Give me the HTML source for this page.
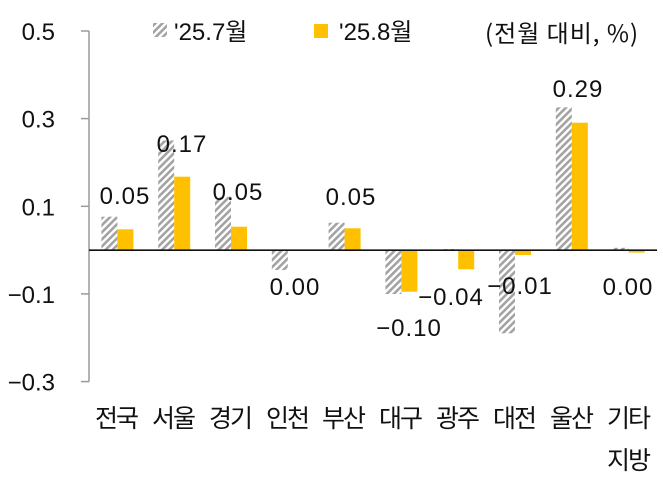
<!DOCTYPE html>
<html><head><meta charset="utf-8">
<style>
html,body{margin:0;padding:0;background:#fff;}
svg{display:block;}
text{font-family:"Liberation Sans","Noto Sans CJK KR",sans-serif;fill:#111;}
.k{font-family:"Noto Sans CJK KR","Liberation Sans",sans-serif;}
</style></head>
<body>
<svg width="663" height="488" viewBox="0 0 663 488" xmlns="http://www.w3.org/2000/svg">
<defs>
<pattern id="h" width="5" height="5" patternUnits="userSpaceOnUse" patternTransform="rotate(45)">
<rect x="0" y="0" width="5" height="5" fill="#fff"/>
<rect x="0" y="0" width="2.6" height="5" fill="#a3a3a3"/>
</pattern>
</defs>
<rect width="663" height="488" fill="#fff"/>
<!-- axis -->
<line x1="89" y1="31" x2="89" y2="381.7" stroke="#9a9a9a" stroke-width="1.5"/>
<g stroke="#9a9a9a" stroke-width="1.5">
<line x1="81" y1="31" x2="89" y2="31"/>
<line x1="81" y1="118.6" x2="89" y2="118.6"/>
<line x1="81" y1="206.3" x2="89" y2="206.3"/>
<line x1="81" y1="293.9" x2="89" y2="293.9"/>
<line x1="81" y1="381.6" x2="89" y2="381.6"/>
</g>
<g font-size="24" text-anchor="end">
<text x="55" y="40">0.5</text>
<text x="55" y="127.5">0.3</text>
<text x="55" y="215.5">0.1</text>
<text x="55" y="303">−0.1</text>
<text x="55" y="390.5">−0.3</text>
</g>
<!-- bars: hatched -->
<g fill="url(#h)">
<rect x="101.4" y="216.7" width="16" height="33.5"/>
<rect x="158.2" y="140.5" width="16" height="109.7"/>
<rect x="215" y="196.7" width="16" height="53.5"/>
<rect x="271.8" y="250.2" width="16" height="19.8"/>
<rect x="328.6" y="222.7" width="16" height="27.5"/>
<rect x="385.4" y="250.2" width="16" height="43.8"/>
<rect x="442.2" y="249" width="16" height="1.2"/>
<rect x="499" y="250.2" width="16" height="83.1"/>
<rect x="555.8" y="107.3" width="16" height="142.9"/>
<rect x="612.6" y="247.8" width="16" height="2.4"/>
</g>
<!-- bars: yellow -->
<g fill="#ffc000">
<rect x="117.4" y="229.3" width="16" height="20.9"/>
<rect x="174.2" y="176.7" width="16" height="73.5"/>
<rect x="231" y="226.7" width="16" height="23.5"/>
<rect x="344.6" y="228.3" width="16" height="21.9"/>
<rect x="401.4" y="250.2" width="16" height="41.5"/>
<rect x="458.2" y="250.2" width="16" height="19.1"/>
<rect x="515" y="250.2" width="16" height="4.8"/>
<rect x="571.8" y="122.7" width="16" height="127.5"/>
<rect x="628.6" y="250.2" width="16" height="2.4"/>
</g>
<line x1="89" y1="250.2" x2="657" y2="250.2" stroke="#111" stroke-width="1.6"/>
<!-- data labels -->
<g font-size="24" text-anchor="middle" letter-spacing="1">
<text x="125" y="204">0.05</text>
<text x="182" y="152">0.17</text>
<text x="238" y="200">0.05</text>
<text x="295" y="295">0.00</text>
<text x="351" y="205">0.05</text>
<text x="409" y="336">−0.10</text>
<text x="451" y="305">−0.04</text>
<text x="520" y="294">−0.01</text>
<text x="578" y="97">0.29</text>
<text x="628" y="295">0.00</text>
</g>
<!-- category labels -->
<g class="k" font-size="25" text-anchor="middle" letter-spacing="-2">
<text x="116" y="427">전국</text>
<text x="173" y="427">서울</text>
<text x="230" y="427">경기</text>
<text x="287" y="427">인천</text>
<text x="343" y="427">부산</text>
<text x="400" y="427">대구</text>
<text x="457" y="427">광주</text>
<text x="514" y="427">대전</text>
<text x="571" y="427">울산</text>
<text x="628" y="427">기타</text>
<text x="628" y="469">지방</text>
</g>
<!-- legend -->
<rect x="153" y="23" width="14" height="14" fill="url(#h)"/>
<text x="174" y="40" font-size="24">'25.7<tspan class="k">월</tspan></text>
<rect x="314" y="24" width="14" height="14" fill="#ffc000"/>
<text x="339" y="40" font-size="24">'25.8<tspan class="k">월</tspan></text>
<text x="485" y="42" font-size="24" class="k" letter-spacing="1">(전월 대비, %)</text>
</svg>
</body></html>
